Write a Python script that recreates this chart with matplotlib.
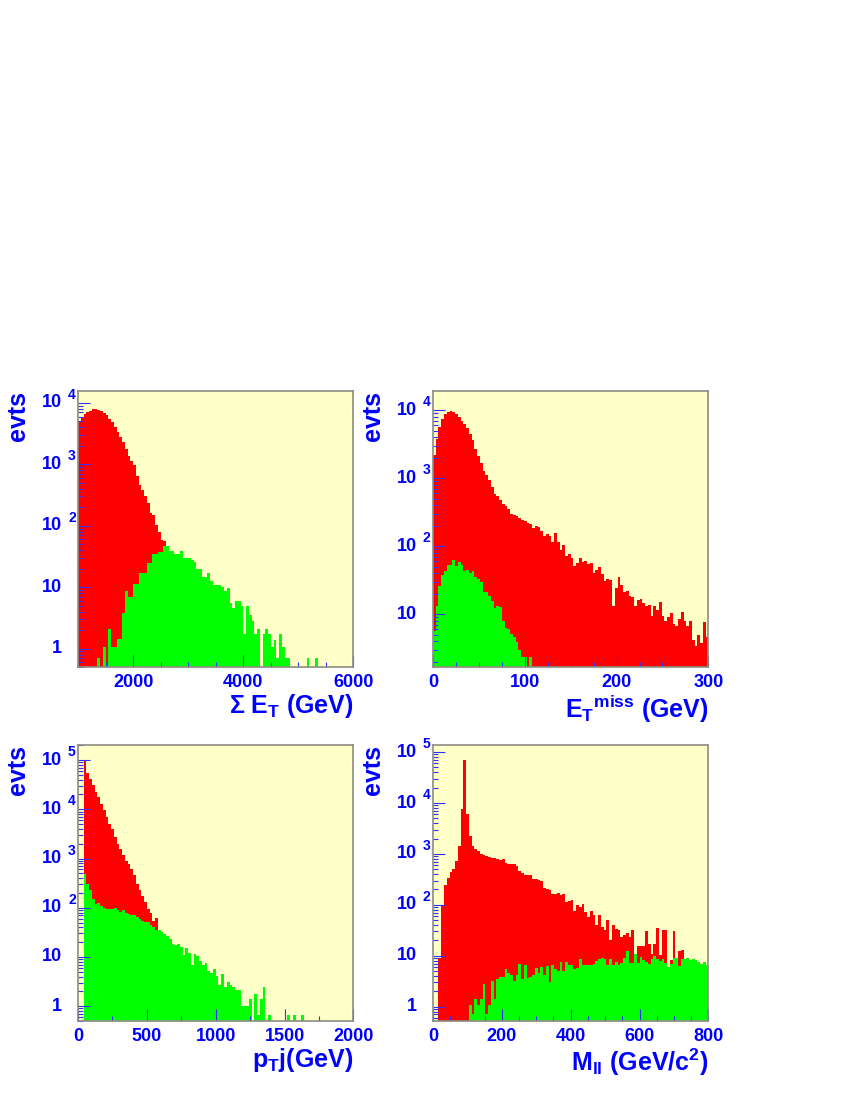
import numpy as np
import matplotlib
matplotlib.use("Agg")
import matplotlib.pyplot as plt
from matplotlib.ticker import MultipleLocator, LogLocator, NullFormatter
from matplotlib.transforms import offset_copy

plt.rcParams['font.family'] = ['Liberation Sans', 'DejaVu Sans']
plt.rcParams['font.weight'] = 'bold'
plt.rcParams['mathtext.fontset'] = 'custom'
plt.rcParams['mathtext.rm'] = 'Liberation Sans:bold'
plt.rcParams['mathtext.bf'] = 'Liberation Sans:bold'
plt.rcParams['mathtext.it'] = 'Liberation Sans:bold'
plt.rcParams['mathtext.default'] = 'bf'

# ---- sum E_T, 100 bins 1000..6000 GeV
sumet_red = [5000, 5830, 6600, 7100, 7480, 7870, 7870, 7670, 7300, 6850,
             6280, 5540, 4890, 4010, 3360, 2750, 2310, 1800, 1350, 1120,
             964, 637, 467, 386, 308, 234, 161, 151, 104, 78,
             59, 57, 43, 32, 24, 17, 12, 8, 5, 3.5,
             2.4, 1.6, 1.1, 0.7] + [0] * 56
sumet_green = [0, 0, 0, 0, 0, 0, 0, 0.7, 0, 1.05,
               0, 2.1, 1.05, 1.05, 1.45, 1.45, 3.8, 8.5, 6.8, 6.8,
               11.2, 11.2, 16.8, 16.8, 16.8, 24.7, 24.7, 35, 35, 38,
               38, 46, 46, 39, 39, 35, 35, 39, 30, 30,
               30, 28, 26, 20, 20, 14.6, 14.6, 17, 12.7, 11,
               11, 11, 9.9, 8.5, 9.7, 5.5, 4.6, 5.9, 5.9, 4.9,
               1.7, 4.9, 3.5, 2.8, 1.7, 2.1, 0, 1.7, 2.1, 1.7,
               1.05, 1.4, 0.7, 1.7, 1.05, 0.7, 0.7, 0, 0, 0,
               0, 0, 0, 0.7, 0, 0, 0.7, 0, 0, 0,
               0, 0, 0, 0, 0, 0, 0, 0, 0, 0]

# ---- missing E_T, 100 bins 0..300 GeV
met_red = [2220, 3700, 5620, 7280, 8830, 9440, 9660, 9440, 8830, 7890,
           6890, 6300, 5370, 4490, 3570, 2640, 2100, 1680, 1290, 1110,
           923, 738, 587, 543, 485, 419, 387, 357, 299, 292,
           276, 261, 246, 238, 220, 213, 186, 199, 190, 169,
           140, 152, 140, 116, 157, 116, 89, 103, 71, 77,
           66, 51, 57, 66, 59, 60, 54, 57, 40, 44,
           49, 39, 31, 33, 32, 13.1, 24, 35, 27, 21,
           22, 18.4, 17.8, 13.1, 16.4, 17, 14.7, 13.1, 13.8, 9.3,
           13.1, 11.7, 15.2, 9.3, 7.9, 9.0, 10.4, 7.2, 6.7, 8.4,
           10.8, 8.1, 6.7, 7.9, 4.2, 3.4, 4.9, 3.8, 7.7, 4.7]
met_green = [5.6, 13.1, 25.8, 37.5, 43.8, 52.5, 53.7, 63.5, 50.8, 58.8,
             53.7, 43.8, 45.3, 40.5, 42.9, 35, 33.4, 29.9, 21.3, 21.3,
             18.4, 15.5, 12.4, 13.1, 12.7, 7.9, 6.3, 6.1, 5.1, 4.6,
             3.9, 3.0, 2.33, 2.33, 0, 2.33] + [0] * 64

# ---- jet p_T, 100 bins 0..2000 GeV
ptj_red = [0, 0, 98600, 55200, 40500, 31500, 22400, 17700, 12900, 9480,
           6940, 5080, 3900, 2720, 1990, 1530, 1160, 872, 782, 600,
           467, 306, 225, 172, 130, 95, 79, 55, 61.5, 30,
           20, 12, 7, 4, 2, 1] + [0] * 64
ptj_green = [0, 0, 489, 306, 225, 152, 120, 122, 108, 98,
             95, 93, 93, 98, 88, 81, 88, 79, 75, 72,
             72, 64, 58, 55, 51, 51, 45, 40, 36, 34.5,
             32, 29.5, 27.3, 23.4, 18.5, 17.7, 18.5, 15.9, 11.1, 15.1,
             12, 7.0, 11.6, 10.3, 8.1, 7.0, 7.4, 5.2, 4.8, 5.6,
             4.2, 2.7, 4.5, 2.4, 3.1, 2.7, 2.4, 2.1, 2.1, 1.03,
             1.03, 1.03, 1.37, 0, 1.78, 0.67, 1.37, 2.4, 0, 0.67,
             0, 0, 0, 0, 0, 0, 0.67, 0, 0.67, 0,
             0, 0.67] + [0] * 18

# ---- dilepton mass, 100 bins 0..800 GeV/c2
mll_red = [0, 0, 9.1, 101, 243, 338, 443, 514, 718, 1440,
           7760, 69300, 6190, 2260, 1440, 1240, 1130, 1010, 969, 913,
           873, 834, 834, 785, 752, 785, 674, 645, 645, 645,
           581, 457, 430, 381, 381, 381, 318, 318, 304, 291,
           215, 208, 194, 166, 166, 174, 155, 166, 114, 118,
           123, 75, 98, 91, 106, 73, 58, 75, 62.5, 40.8,
           64, 36.8, 31.7, 49.8, 20.2, 40.8, 33.2, 31.7, 23.4, 26,
           28.4, 23.4, 31.7, 11, 15.6, 15.6, 15.6, 30.3, 17.3, 11,
           17.3, 35.2, 10.2, 31.7, 31.7, 6.0, 8.2, 30.3, 5.6, 12.2,
           12.8, 5.0, 8.2, 4, 4, 4, 4, 4, 4, 4]
mll_green = [0] * 13 + [1.06, 0.73, 1.44, 1.06, 1.44, 2.83, 0.73, 1.06, 3.15, 1.40,
                        3.55, 3.83, 3.83, 5.58, 4.66, 4.14, 3.15, 4.14, 7.0, 3.45,
                        6.5, 3.66, 3.83, 4.14, 5.75, 4.66, 6.03, 4.14, 6.3, 3.05,
                        6.7, 5.58, 4.96, 7.55, 4.96, 7.55, 6.7, 6.7,
                        5.58, 5.75, 8.5, 6.7, 6.7, 6.5, 6.7, 7.0, 7.8, 8.8,
                        9.1, 8.8, 6.7, 8.8, 6.5, 7.55, 6.7, 7.3, 9.1, 12.2,
                        7.3, 7.3, 11, 7.3, 9.5, 8.2, 7.55, 7.0, 8.8, 9.9,
                        8.8, 7.8, 8.8, 7.3, 6.03, 7.0, 9.1, 9.1, 6.3, 8.5,
                        8.8, 9.1, 8.2, 8.5, 8.2, 7.55, 7.0, 7.55, 6.7]

RED = '#ff0000'
GREEN = '#00ff00'
BLUE = '#0000ff'
FRAME = '#8c8c80'
PAD = '#ffffc8'


def panel(fig, rect, lo, hi, red, green, ylim, major, minor, xlabel):
    ax = fig.add_axes(rect, facecolor=PAD)
    edges = np.linspace(lo, hi, len(red) + 1)
    ax.stairs(red, edges, fill=True, baseline=1e-3, color=RED, lw=0)
    ax.stairs(green, edges, fill=True, baseline=1e-3, color=GREEN, lw=0)
    ax.set_yscale('log')
    ax.set_xlim(lo, hi)
    ax.set_ylim(*ylim)

    ax.xaxis.set_major_locator(MultipleLocator(major))
    ax.xaxis.set_minor_locator(MultipleLocator(minor))
    ax.yaxis.set_major_locator(LogLocator(base=10, numticks=20))
    ax.yaxis.set_minor_locator(LogLocator(base=10, subs=np.arange(2, 10), numticks=20))
    ax.yaxis.set_major_formatter(NullFormatter())
    ax.yaxis.set_minor_formatter(NullFormatter())
    ax.tick_params(which='both', direction='in', color='#3030ff', width=0.8,
                   top=False, right=False, labelleft=False)
    ax.tick_params(which='major', length=8.6)
    ax.tick_params(which='minor', length=3.6)
    ax.tick_params(axis='x', labelsize=13, labelcolor=BLUE, pad=5)
    for s in ax.spines.values():
        s.set_color(FRAME)
        s.set_linewidth(1.2)

    # ROOT-like log labels: "10" with exponent to its right
    ytr = ax.get_yaxis_transform()
    base_tr = offset_copy(ytr, fig=fig, x=-16, y=0, units='dots')
    exp_tr = offset_copy(ytr, fig=fig, x=-10, y=8, units='dots')
    for d in range(-1, 7):
        v = 10.0 ** d
        if v < ylim[0] or v > ylim[1]:
            continue
        txt = '1' if d == 0 else '10'
        ax.text(0, v, txt, transform=base_tr, ha='right', va='center',
                fontsize=13, color=BLUE, fontweight='bold')
        if d > 1:
            ax.text(0, v, str(d), transform=exp_tr, ha='left', va='center',
                    fontsize=10, color=BLUE, fontweight='bold')

    ax.text(-0.219, 1.0, 'evts', transform=ax.transAxes, rotation=90,
            ha='center', va='top', fontsize=18, color=BLUE, fontweight='bold')
    ax.text(1.0, -0.092, xlabel, transform=ax.transAxes, ha='right', va='top',
            fontsize=18, color=BLUE, fontweight='bold')
    return ax


fig = plt.figure(figsize=(8.5, 11), dpi=100, facecolor='white')

w = 0.324
h = 0.2509
panel(fig, [0.0918, 0.3936, w, h], 1000, 6000, sumet_red, sumet_green,
      (0.5, 1.56e4), 2000, 500, 'Σ E$_{T}$ (GeV)')
panel(fig, [0.5094, 0.3936, w, h], 0, 300, met_red, met_green,
      (1.68, 1.9e4), 100, 25, 'E$_{T}$$^{miss}$ (GeV)')
panel(fig, [0.0918, 0.0718, w, h], 0, 2000, ptj_red, ptj_green,
      (0.5, 2.02e5), 500, 250, 'p$_{T}$j(GeV)')
panel(fig, [0.5094, 0.0718, w, h], 0, 800, mll_red, mll_green,
      (0.52, 1.38e5), 200, 50, 'M$_{ll}$ (GeV/c$^{2}$)')

fig.savefig('out.png', dpi=100, facecolor='white')
